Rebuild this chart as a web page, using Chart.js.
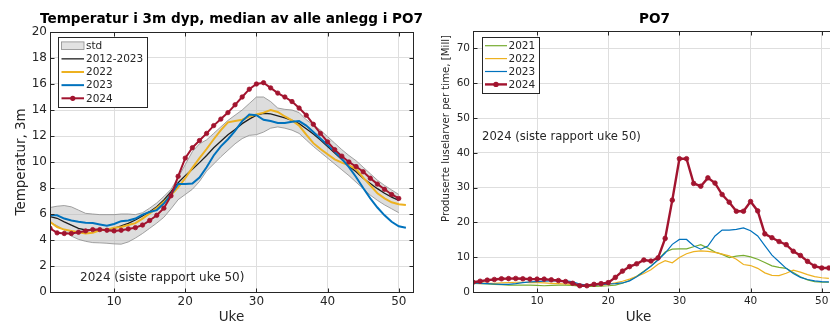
<!DOCTYPE html>
<html><head><meta charset="utf-8">
<script src="https://cdn.jsdelivr.net/npm/chart.js@4.4.1/dist/chart.umd.min.js"></script>
<style>
html,body{margin:0;padding:0;background:#fff;overflow:hidden;}
#wrap{position:relative;width:830px;height:324px;overflow:hidden;background:#fff;}
#c1{position:absolute;left:0;top:0;}
#c2{position:absolute;left:420px;top:0;}
</style></head><body>
<div id="wrap"><canvas id="c1" width="440" height="324"></canvas><canvas id="c2" width="430" height="324"></canvas></div>
<script>
// ---------- categories / ticks ----------
const weeks = [1,2,3,4,5,6,7,8,9,10,11,12,13,14,15,16,17,18,19,20,21,22,23,24,25,26,27,28,29,30,31,32,33,34,35,36,37,38,39,40,41,42,43,44,45,46,47,48,49,50,51];
const xTicks = [10,20,30,40,50];
const yTicksTemp = [0,2,4,6,8,10,12,14,16,18,20];
const yTicksLice = [0,10,20,30,40,50,60,70];

// ---------- left chart: temperature ----------
const temp2024 = [4.9,4.55,4.5,4.5,4.6,4.7,4.8,4.8,4.75,4.7,4.75,4.85,4.95,5.15,5.5,5.9,6.45,7.4,8.9,10.3,11.1,11.65,12.2,12.8,13.3,13.8,14.4,15.0,15.6,16.0,16.1,15.7,15.3,15.0,14.65,14.15,13.6,12.9,12.2,11.55,10.95,10.45,10.0,9.65,9.25,8.75,8.3,7.9,7.5,7.2];
const temp2023 = [5.9,5.9,5.65,5.5,5.4,5.33,5.3,5.2,5.1,5.23,5.45,5.5,5.65,5.95,6.15,6.3,6.8,7.5,8.3,8.3,8.35,8.8,9.6,10.5,11.2,11.75,12.4,13.15,13.65,13.6,13.25,13.15,13.0,13.0,13.1,13.15,12.8,12.3,11.8,11.3,10.8,10.25,9.6,8.85,8.0,7.2,6.5,5.9,5.4,5.05,4.95];
const temp2022 = [5.4,5.0,4.8,4.7,4.6,4.5,4.55,4.75,4.8,4.95,5.0,5.15,5.3,5.65,6.05,6.45,6.95,7.45,8.05,8.75,9.55,10.3,11.0,11.75,12.45,13.05,13.15,13.25,13.5,13.65,13.8,14.0,13.85,13.5,13.2,12.8,12.1,11.45,11.0,10.6,10.2,9.95,9.75,9.45,8.8,8.2,7.6,7.2,6.9,6.75,6.7];
const tempMedian = [5.8,5.67,5.4,5.15,4.9,4.77,4.77,4.77,4.8,4.9,5.08,5.28,5.54,5.85,6.18,6.56,7.08,7.72,8.4,8.95,9.45,9.95,10.5,11.1,11.6,12.1,12.5,12.95,13.3,13.6,13.75,13.7,13.55,13.4,13.2,12.95,12.55,12.15,11.7,11.2,10.7,10.2,9.7,9.25,8.75,8.35,7.95,7.6,7.3,7.05];
const stdUpper = [6.5,6.6,6.65,6.55,6.3,6.05,6.0,5.95,5.95,5.95,6.0,6.0,5.95,6.1,6.45,6.85,7.35,7.9,8.8,9.8,10.8,11.4,11.7,12.2,12.7,13.2,13.6,14.0,14.5,15.0,15.0,14.65,14.15,14.05,14.0,13.8,13.25,12.85,12.45,11.95,11.45,10.95,10.5,10.1,9.6,9.1,8.6,8.2,7.85,7.5];
const stdLower = [5.35,5.1,4.75,4.3,4.05,3.9,3.8,3.78,3.75,3.7,3.68,3.85,4.15,4.5,4.9,5.3,5.75,6.4,7.1,7.5,7.9,8.5,9.3,9.85,10.4,10.9,11.4,11.8,12.05,12.1,12.3,12.6,12.7,12.6,12.45,12.2,11.7,11.2,10.75,10.3,9.85,9.4,8.95,8.45,7.95,7.45,7.05,6.7,6.4,6.1];

// ---------- right chart: produced lice larvae per hour [Mill] ----------
const lice2024 = [2.8,3.1,3.4,3.6,3.8,3.85,3.9,3.8,3.7,3.7,3.7,3.5,3.3,3.0,2.5,1.8,1.8,2.2,2.4,2.7,4.2,6.0,7.3,8.1,9.2,8.9,9.8,15.4,26.4,38.3,38.3,31.2,30.4,32.8,31.3,28.0,25.8,23.2,23.2,26.0,23.3,16.7,15.6,14.5,13.6,11.7,10.5,8.8,7.4,6.9,6.9];
const lice2023 = [2.6,2.5,2.4,2.3,2.2,2.2,2.4,2.7,2.9,3.0,3.1,3.2,3.2,3.3,2.9,2.3,2.0,2.0,2.1,2.3,2.4,2.6,3.2,4.4,5.8,7.4,9.2,11.2,13.7,15.1,15.1,13.3,12.3,13.2,16.1,17.8,17.8,18.0,18.4,17.6,16.1,13.3,10.6,8.7,6.8,5.3,4.2,3.6,3.2,3.0,2.9];
const lice2022 = [2.7,2.6,2.5,2.5,2.6,2.7,2.8,2.8,2.7,2.7,2.6,2.5,2.4,2.3,2.2,2.0,1.9,1.9,2.0,2.2,2.6,3.1,3.7,4.5,5.3,6.4,8.0,9.0,8.4,9.9,11.0,11.6,11.8,11.7,11.4,10.9,10.4,9.4,7.9,7.6,6.8,5.5,4.8,4.7,5.4,6.3,5.7,5.0,4.4,4.1,3.9];
const lice2021 = [2.5,2.4,2.3,2.2,2.1,2.0,2.0,2.0,2.0,1.9,1.8,1.9,2.0,2.0,1.9,1.7,1.6,1.6,1.7,1.8,2.0,2.5,3.3,4.5,6.0,7.5,9.3,11.5,12.3,12.4,12.4,13.0,13.6,12.6,11.5,10.8,9.9,10.3,10.5,10.1,9.4,8.5,7.5,7.1,6.8,5.6,4.4,3.5,3.0,2.8,2.8];

const title1 = 'Temperatur i 3m dyp, median av alle anlegg i PO7';
const title2 = 'PO7';
const note = '2024 (siste rapport uke 50)';

const FONT = '"DejaVu Sans", sans-serif';
const TXT = '#262626';
const GRID = '#dedede';
const RED = '#A2142F', BLUE = '#0072BD', YEL = '#EDB120', GREEN = '#77AC30', BLK = '#1e1e1e';

Chart.defaults.font.family = FONT;
Chart.defaults.color = TXT;

function pts(vals){ return vals.map((v,i)=>({x:weeks[i], y:v})); }

function framePlugin(cfg){
  return {
    id:'frame'+cfg.key,
    afterLayout(chart){
      const tb = chart.titleBlock, a = chart.chartArea;
      if(tb){ const c=(a.left+a.right)/2; tb.left=c-240; tb.right=c+240; tb.width=480; }
    },
    beforeDraw(chart){
      const sx = chart.scales.x, sy = chart.scales.y;
      [[sx,cfg.xTitleShift||[0,0]],[sy,cfg.yTitleShift||[0,0]]].forEach(([s,sh])=>{
        if(!s._shifted && (sh[0]||sh[1])){
          const orig = s.drawTitle.bind(s);
          s.drawTitle = function(){ const c=this.ctx; c.save(); c.translate(sh[0],sh[1]); orig(); c.restore(); };
          s._shifted = true;
        }
      });
    },
    afterDraw(chart){
      const {ctx, chartArea:a, scales} = chart;
      const L=Math.round(a.left)+0.5, R=Math.round(a.right)+0.5, T=Math.round(a.top)+0.5, B=Math.round(a.bottom)+0.5;
      ctx.save();
      ctx.strokeStyle = TXT; ctx.lineWidth = 1;
      ctx.strokeRect(L, T, R-L, B-T);
      const tl = 4;
      ctx.beginPath();
      scales.x.ticks.forEach(t=>{
        const px = Math.round(scales.x.getPixelForValue(t.value))+0.5;
        ctx.moveTo(px,B); ctx.lineTo(px,B-tl);
        ctx.moveTo(px,T); ctx.lineTo(px,T+tl);
      });
      scales.y.ticks.forEach(t=>{
        const py = Math.round(scales.y.getPixelForValue(t.value))+0.5;
        ctx.moveTo(L,py); ctx.lineTo(L+tl,py);
        ctx.moveTo(R,py); ctx.lineTo(R-tl,py);
      });
      ctx.stroke();
      ctx.fillStyle = TXT;
      ctx.font = cfg.noteSize + 'px ' + FONT;
      ctx.textAlign = 'left'; ctx.textBaseline = 'middle';
      ctx.fillText(note, cfg.noteX, cfg.noteY);
      const Lg = cfg.legend;
      ctx.fillStyle = '#fff';
      ctx.fillRect(Lg.x, Lg.y, Lg.w, Lg.h);
      ctx.strokeStyle = TXT; ctx.lineWidth = 1;
      ctx.strokeRect(Lg.x+0.5, Lg.y+0.5, Lg.w, Lg.h);
      ctx.font = Lg.fontSize + 'px ' + FONT;
      Lg.labels.forEach((lab,i)=>{
        const ds = chart.data.datasets.find(d=>d.label===lab);
        const y = Lg.row0 + i*Lg.step;
        if(ds.fill && ds.fill !== false){
          ctx.fillStyle = '#e2e2e2';
          ctx.fillRect(Lg.s0, y-3.8, Lg.s1-Lg.s0, 7.6);
          ctx.strokeStyle = '#8c8c8c'; ctx.lineWidth = 0.8;
          ctx.strokeRect(Lg.s0, y-3.8, Lg.s1-Lg.s0, 7.6);
        } else {
          ctx.strokeStyle = ds.borderColor; ctx.lineWidth = ds.borderWidth;
          ctx.beginPath(); ctx.moveTo(Lg.s0,y); ctx.lineTo(Lg.s1,y); ctx.stroke();
          if(ds.pointRadius>0){
            ctx.fillStyle = ds.borderColor;
            ctx.beginPath(); ctx.arc((Lg.s0+Lg.s1)/2, y, ds.pointRadius+0.4, 0, Math.PI*2); ctx.fill();
          }
        }
        ctx.fillStyle = TXT;
        ctx.fillText(lab, Lg.tx, y+0.5);
      });
      ctx.restore();
    }
  };
}

function scalesCfg(o){
  return {
    x:{type:'linear', min:1, max:52,
       afterBuildTicks:s=>{ s.ticks = xTicks.map(v=>({value:v})); },
       afterFit:s=>{ s.height = 32; },
       grid:{color:GRID, drawTicks:false, lineWidth:1}, border:{display:false},
       ticks:{padding:o.xPad, color:TXT, font:{family:FONT,size:o.tickSize}, maxRotation:0, autoSkip:false},
       title:{display:true, text:'Uke', color:TXT, font:{family:FONT,size:13.5,lineHeight:1}, padding:{top:0,bottom:0}}},
    y:{type:'linear', min:0, max:o.ymax,
       afterBuildTicks:s=>{ s.ticks = o.yTicks.map(v=>({value:v})); },
       afterFit:s=>{ s.width = o.yWidth; },
       grid:{color:GRID, drawTicks:false, lineWidth:1}, border:{display:false},
       ticks:{padding:3, color:TXT, font:{family:FONT,size:o.tickSize}, autoSkip:false},
       title:{display:true, text:o.yTitle, color:TXT, font:{family:FONT,size:o.yTitleSize,lineHeight:1.2}, padding:{top:o.yTitlePad,bottom:0}}}
  };
}

new Chart(document.getElementById('c1'), {
  type:'line',
  data:{datasets:[
    {label:'2024', data:pts(temp2024), borderColor:RED, backgroundColor:RED, borderWidth:2, pointRadius:2.2, pointBorderWidth:0.8, pointBackgroundColor:RED, pointBorderColor:RED, order:0, fill:false},
    {label:'2023', data:pts(temp2023), borderColor:BLUE, borderWidth:2, pointRadius:0, order:1, fill:false},
    {label:'2022', data:pts(temp2022), borderColor:YEL, borderWidth:2, pointRadius:0, order:2, fill:false},
    {label:'2012-2023', data:pts(tempMedian), borderColor:BLK, borderWidth:1.3, pointRadius:0, order:3, fill:false},
    {label:'std', data:pts(stdUpper), borderColor:'#8c8c8c', borderWidth:0.8, pointRadius:0, order:4, fill:5, backgroundColor:'rgba(180,180,180,0.45)'},
    {label:'std (nedre)', data:pts(stdLower), borderColor:'#8c8c8c', borderWidth:0.8, pointRadius:0, order:5, fill:false}
  ]},
  options:{
    responsive:false, animation:false, events:[],
    layout:{padding:{left:0,right:27,top:0,bottom:0}},
    plugins:{
      legend:{display:false}, tooltip:{enabled:false},
      filler:{drawTime:'beforeDatasetsDraw'},
      title:{display:true, text:title1, fullSize:false, color:'#000', font:{family:FONT,size:13.6,weight:'bold',lineHeight:1.2}, padding:{top:11,bottom:4.68}}
    },
    scales:scalesCfg({ymax:20, yTicks:yTicksTemp, yWidth:50, tickSize:12, xPad:3, yTitle:'Temperatur, 3m', yTitleSize:13.4, yTitlePad:13})
  },
  plugins:[framePlugin({key:1, noteX:80, noteY:278, noteSize:12,
    legend:{x:58, y:37, w:89, h:70, row0:45.7, step:13.15, s0:61.5, s1:84, tx:86, fontSize:10.5,
      labels:['std','2012-2023','2022','2023','2024']}})]
});

new Chart(document.getElementById('c2'), {
  type:'line',
  data:{datasets:[
    {label:'2024', data:pts(lice2024), borderColor:RED, backgroundColor:RED, borderWidth:2.4, pointRadius:2.3, pointBorderWidth:0.8, pointBackgroundColor:RED, pointBorderColor:RED, order:0, fill:false},
    {label:'2023', data:pts(lice2023), borderColor:BLUE, borderWidth:1.2, pointRadius:0, order:1, fill:false},
    {label:'2022', data:pts(lice2022), borderColor:YEL, borderWidth:1.2, pointRadius:0, order:2, fill:false},
    {label:'2021', data:pts(lice2021), borderColor:GREEN, borderWidth:1.2, pointRadius:0, order:3, fill:false}
  ]},
  options:{
    responsive:false, animation:false, events:[],
    layout:{padding:{left:0,right:14,top:0,bottom:0}},
    plugins:{
      legend:{display:false}, tooltip:{enabled:false},
      title:{display:true, text:title2, fullSize:false, color:'#000', font:{family:FONT,size:13.6,weight:'bold',lineHeight:1.2}, padding:{top:11,bottom:3.68}}
    },
    scales:scalesCfg({ymax:75, yTicks:yTicksLice, yWidth:53, tickSize:10.5, xPad:3, yTitle:'Produserte luselarver per time, [Mill]', yTitleSize:10.2, yTitlePad:20})
  },
  plugins:[framePlugin({key:2, noteX:62, noteY:137, noteSize:11.6, xTitleShift:[-16,0], yTitleShift:[0,-33],
    legend:{x:62, y:37, w:57, h:56, row0:45.7, step:12.9, s0:65, s1:87, tx:88.5, fontSize:10.5,
      labels:['2021','2022','2023','2024']}})]
});
</script>
</body></html>
